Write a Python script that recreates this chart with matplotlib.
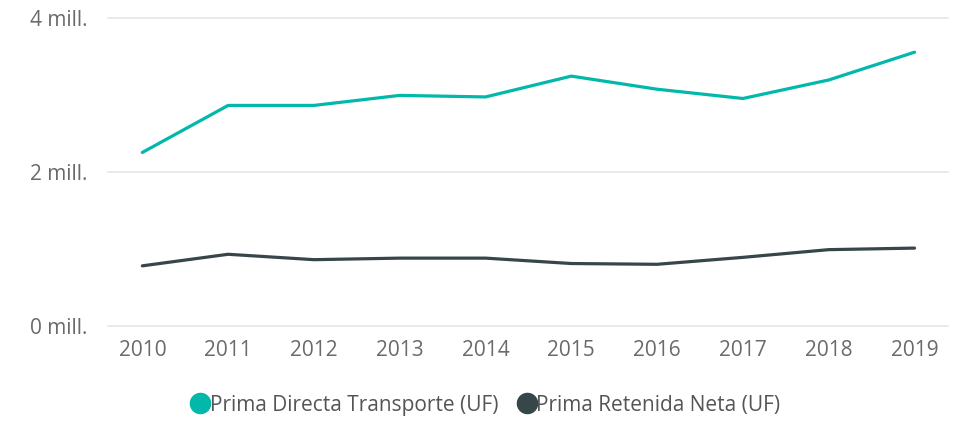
import matplotlib.pyplot as plt
from matplotlib.lines import Line2D
from matplotlib.ticker import FuncFormatter

years = [2010, 2011, 2012, 2013, 2014, 2015, 2016, 2017, 2018, 2019]
prima_directa = [2.25, 2.86, 2.86, 2.99, 2.97, 3.24, 3.07, 2.95, 3.19, 3.55]
prima_retenida = [0.78, 0.93, 0.86, 0.88, 0.88, 0.81, 0.80, 0.89, 0.99, 1.01]
series_names = ['Prima Directa Transporte (UF)', 'Prima Retenida Neta (UF)']
colors = ['#01B8AA', '#374649']

plt.rcParams['font.family'] = ['Open Sans', 'DejaVu Sans']

fig = plt.figure(figsize=(9.64, 4.21), dpi=100)
ax = fig.add_axes([108 / 964, 1 - 326 / 421, 840 / 964, 308.5 / 421])

ax.plot(years, prima_directa, color=colors[0], linewidth=2.3, solid_capstyle='round')
ax.plot(years, prima_retenida, color=colors[1], linewidth=2.3, solid_capstyle='round')

ax.set_ylim(0, 4)
ax.set_xlim(years[0] - 0.4, years[-1] + 0.39)
ax.set_yticks([0, 2, 4])
ax.yaxis.set_major_formatter(FuncFormatter(lambda v, p: f'{int(v)} mill.'))
ax.set_xticks(years)

ax.grid(axis='y', color='#e6e6e6', linewidth=1.2)
ax.set_axisbelow(True)
for s in ax.spines.values():
    s.set_visible(False)
ax.tick_params(axis='both', length=0, labelsize=15, labelcolor='#6a6a6a')
ax.tick_params(axis='y', pad=15)
ax.tick_params(axis='x', pad=10)
for gl in ax.get_ygridlines():
    gl.set_clip_on(False)

handles = [Line2D([], [], marker='o', linestyle='none', markersize=14.5,
                  color=c) for c in colors]
fig.legend(handles, series_names, loc='center', bbox_to_anchor=(484 / 964, 1 - 405 / 421),
           ncol=2, frameon=False, fontsize=15, handletextpad=-0.15,
           columnspacing=0.75, labelcolor='#555555', handlelength=1.2)

fig.savefig('out.png', dpi=100, facecolor='white')
